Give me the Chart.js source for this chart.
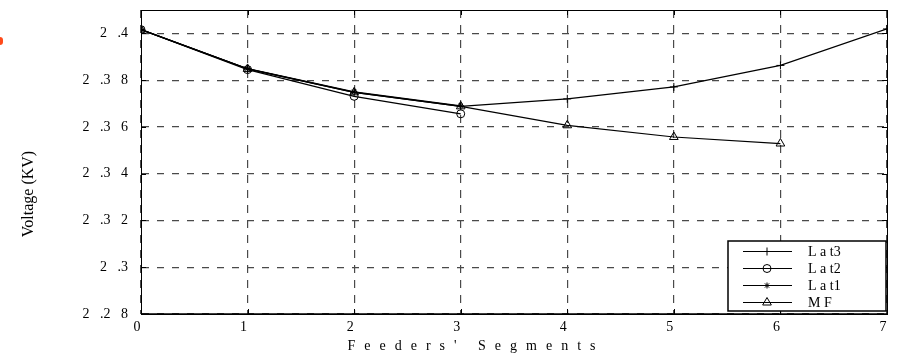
<!DOCTYPE html>
<html>
<head>
<meta charset="utf-8">
<script src="https://cdn.jsdelivr.net/npm/chart.js@4.4.1/dist/chart.umd.min.js"></script>
<style>
  html, body { margin: 0; padding: 0; background: #fff; }
  #wrap { position: relative; width: 897px; height: 354px; }
  #blob { position: absolute; left: -3px; top: 37px; width: 6px; height: 8px; border-radius: 3px; background: #ff4a1a; }
</style>
</head>
<body>
<div id="wrap">
  <canvas id="chartCanvas" width="897" height="354"></canvas>
  <div id="blob"></div>
</div>
<script>
// feeder segment index (x axis)
var segments = [0, 1, 2, 3, 4, 5, 6, 7];

// voltages in KV
var lat3 = [2.4016, 2.3848, 2.3748, 2.3688, 2.3720, 2.3771, 2.3863, 2.4019];
var lat2 = [2.4016, 2.3845, 2.3731, 2.3656];
var lat1 = [2.4016, 2.3849, 2.3750, 2.3690];
var mf   = [2.4016, 2.3848, 2.3748, 2.3688, 2.3607, 2.3557, 2.3529];

var yTicks = [2.28, 2.30, 2.32, 2.34, 2.36, 2.38, 2.40];
var yTickLabels = ['2   .2   8', '2   .3', '2   .3   2', '2   .3   4', '2   .3   6', '2   .3   8', '2   .4'];
var xTickLabels = ['0', '1', '2', '3', '4', '5', '6', '7'];

var serif = '"Liberation Serif", "Times New Roman", serif';

function series(label, values, style, radius) {
  return {
    label: label,
    data: values,
    borderColor: '#000',
    borderWidth: 1.2,
    pointStyle: style,
    pointRadius: radius,
    pointBorderColor: '#000',
    pointBorderWidth: 1,
    pointBackgroundColor: 'rgba(0,0,0,0)',
    fill: false,
    tension: 0
  };
}

// frame, inward ticks, axis titles and the boxed legend
var extras = {
  id: 'extras',
  afterDraw: function(chart) {
    var ctx = chart.ctx;
    var a = chart.chartArea;
    var xs = chart.scales.x, ys = chart.scales.y;
    ctx.save();
    ctx.strokeStyle = '#000';
    ctx.lineWidth = 1;
    ctx.strokeRect(a.left + 0.5, a.top + 0.5, a.right - a.left, a.bottom - a.top);
    ctx.lineWidth = 1.5;
    ctx.beginPath();
    ctx.moveTo(a.left, a.bottom);
    ctx.lineTo(a.right, a.bottom);
    ctx.stroke();

    ctx.lineWidth = 1;
    ctx.beginPath();
    yTicks.forEach(function(v) {
      var py = Math.round(ys.getPixelForValue(v)) + 0.5;
      ctx.moveTo(a.left, py); ctx.lineTo(a.left + 5, py);
      ctx.moveTo(a.right, py); ctx.lineTo(a.right - 5, py);
    });
    segments.forEach(function(v) {
      var px = Math.round(xs.getPixelForValue(v)) + 0.5;
      ctx.moveTo(px, a.bottom); ctx.lineTo(px, a.bottom - 5);
      ctx.moveTo(px, a.top); ctx.lineTo(px, a.top + 5);
    });
    ctx.stroke();

    // axis titles
    ctx.fillStyle = '#000';
    ctx.textBaseline = 'middle';
    ctx.textAlign = 'center';
    ctx.font = '14px ' + serif;
    ctx.letterSpacing = '9px';
    ctx.fillText("Feeders' Segments", 476, 346);
    ctx.letterSpacing = '0px';
    ctx.save();
    ctx.translate(29, 194);
    ctx.rotate(-Math.PI / 2);
    ctx.font = '16px ' + serif;
    ctx.fillText('Voltage (KV)', 0, 0);
    ctx.restore();

    // legend box
    var bx = 728, by = 241, bw = 158, bh = 70;
    ctx.fillStyle = '#fff';
    ctx.fillRect(bx, by, bw, bh);
    ctx.strokeStyle = '#000';
    ctx.lineWidth = 1.5;
    ctx.strokeRect(bx, by, bw, bh);
    ctx.font = '14px ' + serif;
    ctx.textAlign = 'left';
    var rowY = [251, 268, 285, 302];
    chart.data.datasets.forEach(function(ds, i) {
      var y = rowY[i] + 0.5;
      ctx.strokeStyle = '#000';
      ctx.lineWidth = 1;
      ctx.beginPath();
      ctx.moveTo(743, y);
      ctx.lineTo(792, y);
      ctx.stroke();
      ctx.fillStyle = 'rgba(0,0,0,0)';
      Chart.helpers.drawPoint(ctx, {
        pointStyle: ds.pointStyle,
        radius: ds.pointRadius,
        borderWidth: 1
      }, 767, y);
      ctx.fillStyle = '#000';
      ctx.fillText(ds.label, 808, y + 1);
    });
    ctx.restore();
  }
};

var ctx = document.getElementById('chartCanvas').getContext('2d');
var chart = new Chart(ctx, {
  type: 'line',
  data: {
    labels: segments,
    datasets: [
      series('L a t3', lat3, 'cross', 4),
      series('L a t2', lat2, 'circle', 4),
      series('L a t1', lat1, 'star', 3),
      series('M F', mf, 'triangle', 5)
    ]
  },
  options: {
    responsive: false,
    animation: false,
    layout: { padding: { left: 0, right: 10, top: 10, bottom: 0 } },
    plugins: {
      legend: { display: false },
      tooltip: { enabled: false }
    },
    scales: {
      x: {
        type: 'linear',
        min: 0,
        max: 7,
        afterFit: function(scale) {
          scale.height = 40;
          scale.paddingLeft = 0;
          scale.paddingRight = 0;
        },
        grid: { color: '#4a4a4a', lineWidth: 1.2, drawTicks: false },
        border: { display: true, color: '#000', width: 1, dash: [8, 7] },
        ticks: {
          stepSize: 1,
          padding: 5,
          labelOffset: -4,
          maxRotation: 0,
          color: '#000',
          font: { family: serif, size: 14 },
          callback: function(v) { return xTickLabels[segments.indexOf(v)]; }
        }
      },
      y: {
        min: 2.28,
        max: 2.41,
        afterFit: function(scale) {
          scale.width = 141;
          scale.paddingTop = 0;
          scale.paddingBottom = 0;
        },
        afterBuildTicks: function(scale) {
          scale.ticks = yTicks.map(function(v) { return { value: v }; });
        },
        grid: { color: '#4a4a4a', lineWidth: 1.2, drawTicks: false },
        border: { display: true, color: '#000', width: 1, dash: [7, 8] },
        ticks: {
          padding: 13,
          color: '#000',
          font: { family: serif, size: 14 },
          callback: function(v) {
            var i = yTicks.findIndex(function(t) { return Math.abs(t - v) < 1e-6; });
            return yTickLabels[i];
          }
        }
      }
    }
  },
  plugins: [extras]
});
</script>
</body>
</html>
